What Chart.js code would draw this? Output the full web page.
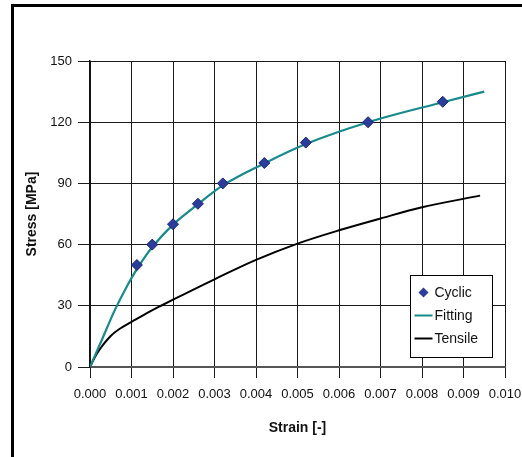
<!DOCTYPE html>
<html lang="en">
<head>
  <meta charset="UTF-8">
  <title>Stress - Strain</title>
  <script src="https://cdn.jsdelivr.net/npm/chart.js"></script>
  <style>
    html, body { margin: 0; padding: 0; background: #fff; }
    #wrap { width: 522px; height: 457px; }
  </style>
</head>
<body>
  <div id="wrap"><canvas id="myChart" width="522" height="457"></canvas></div>

  <script>
    // values
    const cyclicStrain = [0.00113, 0.0015, 0.0020, 0.0026, 0.0032, 0.0042, 0.0052, 0.0067, 0.0085];
    const cyclicStress = [50, 60, 70, 80, 90, 100, 110, 120, 130];

    const fittingStrain = [0, 0.0003, 0.0006, 0.0009, 0.0011, 0.0013, 0.0015, 0.0020, 0.0026, 0.0032, 0.0042, 0.0052, 0.0067, 0.0085, 0.0095];
    const fittingStress = [0, 14, 28, 40, 47, 53.3, 58.8, 69.8, 79.8, 89, 99.8, 109.3, 120, 129.8, 135];

    const tensileStrain = [0, 0.0001, 0.0002, 0.0003, 0.0004, 0.0005, 0.0006, 0.0007, 0.0008, 0.0010, 0.0013, 0.0017, 0.0020, 0.0030, 0.0040, 0.0050, 0.0060, 0.0070, 0.0080, 0.0094];
    const tensileStress = [0, 4.2, 7.6, 10.5, 13, 15.2, 17, 18.5, 19.8, 22.1, 25.6, 29.9, 33, 43, 52.5, 60.5, 67, 72.8, 78.3, 84];

    const xTicks = [0, 0.001, 0.002, 0.003, 0.004, 0.005, 0.006, 0.007, 0.008, 0.009, 0.010];
    const yTicks = [0, 30, 60, 90, 120, 150];

    const toPoints = (xs, ys) => xs.map((x, i) => ({ x: x, y: ys[i] }));

    const FONT = "'Liberation Sans', Arial, sans-serif";
    const teal = '#178a8c';
    const navy = '#2b3c9c';

    // white page + the frame lines at left and top
    const framePlugin = {
      id: 'frame',
      beforeDraw(chart) {
        const c = chart.ctx;
        c.save();
        c.fillStyle = '#fff';
        c.fillRect(0, 0, chart.width, chart.height);
        c.fillStyle = '#000';
        c.fillRect(11, 4, 3, chart.height - 4);
        c.fillRect(11, 4, chart.width - 11, 3);
        c.restore();
      }
    };

    // legend box inside the plot, lower right
    const boxLegend = {
      id: 'boxLegend',
      afterDraw(chart) {
        const c = chart.ctx;
        const bx = 410.5, by = 275.5, bw = 82, bh = 82;
        c.save();
        c.fillStyle = '#fff';
        c.fillRect(bx, by, bw, bh);
        c.strokeStyle = '#000';
        c.lineWidth = 1;
        c.strokeRect(bx, by, bw, bh);
        c.font = '14px ' + FONT;
        c.textBaseline = 'middle';
        chart.data.datasets.forEach((ds, i) => {
          const y = by + 17 + i * 23;
          if (ds.showLine) {
            c.strokeStyle = ds.borderColor;
            c.lineWidth = 2;
            c.beginPath();
            c.moveTo(bx + 4, y);
            c.lineTo(bx + 22, y);
            c.stroke();
          } else {
            c.fillStyle = ds.pointBackgroundColor;
            c.beginPath();
            c.moveTo(bx + 13, y - 5);
            c.lineTo(bx + 18, y);
            c.lineTo(bx + 13, y + 5);
            c.lineTo(bx + 8, y);
            c.closePath();
            c.fill();
          }
          c.fillStyle = '#111';
          c.fillText(ds.label, bx + 24, y + 1);
        });
        c.restore();
      }
    };

    document.addEventListener("DOMContentLoaded", function() {
      const ctx = document.getElementById('myChart').getContext('2d');

      const config = {
        type: 'scatter',
        data: {
          datasets: [{
            label: 'Cyclic',
            data: toPoints(cyclicStrain, cyclicStress),
            showLine: false,
            pointStyle: 'rectRot',
            pointRadius: 5.5,
            pointBackgroundColor: navy,
            pointBorderColor: '#1c2670',
            pointBorderWidth: 1
          }, {
            label: 'Fitting',
            data: toPoints(fittingStrain, fittingStress),
            showLine: true,
            borderColor: teal,
            borderWidth: 2.2,
            pointRadius: 0,
            cubicInterpolationMode: 'monotone'
          }, {
            label: 'Tensile',
            data: toPoints(tensileStrain, tensileStress),
            showLine: true,
            borderColor: '#000',
            borderWidth: 2,
            pointRadius: 0,
            cubicInterpolationMode: 'monotone'
          }]
        },
        options: {
          responsive: false,
          animation: false,
          layout: { padding: { left: 0, right: 17, top: 61, bottom: 0 } },
          plugins: {
            legend: { display: false },
            tooltip: { enabled: false }
          },
          scales: {
            x: {
              type: 'linear',
              min: 0,
              max: 0.010,
              afterBuildTicks: scale => { scale.ticks = xTicks.map(v => ({ value: v })); },
              afterFit: scale => {
                scale.height = 90;
                scale.paddingLeft = 0;
                scale.paddingRight = 0;
              },
              ticks: {
                callback: v => v.toFixed(3),
                color: '#111',
                padding: 9,
                maxRotation: 0,
                autoSkip: false,
                font: { family: FONT, size: 13 }
              },
              grid: { color: '#1a1a1a', lineWidth: 1, tickLength: 11 },
              border: { color: '#555', width: 2 },
              title: {
                display: true,
                text: 'Strain [-]',
                color: '#111',
                padding: { top: 0, bottom: 20 },
                font: { family: FONT, size: 14, weight: 'bold' }
              }
            },
            y: {
              min: 0,
              max: 150,
              afterBuildTicks: scale => { scale.ticks = yTicks.map(v => ({ value: v })); },
              afterFit: scale => {
                scale.width = 90;
                scale.paddingTop = 0;
                scale.paddingBottom = 0;
              },
              ticks: {
                color: '#111',
                padding: 6,
                font: { family: FONT, size: 13 }
              },
              grid: { color: '#1a1a1a', lineWidth: 1, tickLength: 12 },
              border: { color: '#111', width: 1.5 },
              title: {
                display: true,
                text: 'Stress [MPa]',
                color: '#111',
                padding: { top: 24, bottom: 0 },
                font: { family: FONT, size: 14, weight: 'bold' }
              }
            }
          }
        },
        plugins: [framePlugin, boxLegend]
      };

      new Chart(ctx, config);
    });
  </script>
</body>
</html>
